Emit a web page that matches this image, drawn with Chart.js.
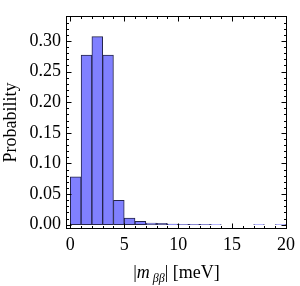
<!DOCTYPE html>
<html>
<head>
<meta charset="utf-8">
<script src="https://cdn.jsdelivr.net/npm/chart.js@4"></script>
<style>
  body { margin: 0; background: #fff; }
  #wrap { width: 300px; height: 286px; }
</style>
</head>
<body>
<div id="wrap"><canvas id="hist"></canvas></div>
<script>
// histogram of |m_bb| in meV, bins of width 1
const binStarts = [0, 1, 2, 3, 4, 5, 6, 7, 8, 9, 10, 11, 12, 13, 14, 15, 16, 17, 18, 19]
const binWidth = 1
const probabilities = [0.078, 0.277, 0.307, 0.277, 0.040, 0.011, 0.0055, 0.0028, 0.0022, 0.0009,
  0.0008, 0.0007, 0.0006, 0.0003, 0, 0, 0, 0.0002, 0, 0.0002]
const xTicks = [0, 5, 10, 15, 20]
const yTicks = [0, 0.05, 0.10, 0.15, 0.20, 0.25, 0.30]
const xMinorStep = 1
const yMinorStep = 0.01

const FONT = '"Liberation Serif", "DejaVu Serif", serif'

const framePlugin = {
  id: 'frame',
  afterDatasetsDraw(chart) {
    const { ctx, chartArea: a, scales: { x, y } } = chart
    const L = Math.round(a.left) + 0.5
    const R = Math.round(a.right) - 0.5
    const T = Math.round(a.top) + 0.5
    const B = Math.round(a.bottom) - 0.5
    ctx.save()
    ctx.strokeStyle = '#000'
    ctx.lineWidth = 1
    ctx.strokeRect(L, T, R - L, B - T)
    ctx.beginPath()
    for (let k = Math.ceil(x.min / xMinorStep); k * xMinorStep <= x.max; k++) {
      const v = k * xMinorStep
      const px = Math.round(x.getPixelForValue(v)) + 0.5
      const len = xTicks.includes(v) ? 5 : 2.5
      ctx.moveTo(px, B); ctx.lineTo(px, B - len)
      ctx.moveTo(px, T); ctx.lineTo(px, T + len)
    }
    for (let k = Math.ceil(y.min / yMinorStep); k * yMinorStep <= y.max; k++) {
      const py = Math.round(y.getPixelForValue(k * yMinorStep)) + 0.5
      const len = k % 5 === 0 ? 5 : 2.5
      ctx.moveTo(L, py); ctx.lineTo(L + len, py)
      ctx.moveTo(R, py); ctx.lineTo(R - len, py)
    }
    ctx.stroke()
    ctx.restore()
  }
}

// x axis title with the beta-beta subscript
const xTitlePlugin = {
  id: 'xTitle',
  afterDraw(chart) {
    const { ctx, chartArea: a } = chart
    const parts = [
      { t: '|', f: '18px ' + FONT, dy: 0 },
      { t: 'm', f: 'italic 18px ' + FONT, dy: 0 },
      { t: ' ββ', f: 'italic 12px ' + FONT, dy: 4 },
      { t: '| [meV]', f: '18px ' + FONT, dy: 0 }
    ]
    ctx.save()
    ctx.fillStyle = '#000'
    ctx.textBaseline = 'alphabetic'
    let total = 0
    parts.forEach(p => { ctx.font = p.f; p.w = ctx.measureText(p.t).width; total += p.w })
    let cx = (a.left + a.right) / 2 - total / 2
    const base = 278
    parts.forEach(p => {
      ctx.font = p.f
      ctx.fillText(p.t, cx, base + p.dy)
      cx += p.w
    })
    ctx.restore()
  }
}

new Chart(document.getElementById('hist'), {
  type: 'bar',
  data: {
    datasets: [{
      data: binStarts.map((s, i) => ({ x: s + binWidth / 2, y: probabilities[i] })),
      backgroundColor: '#8080ff',
      borderColor: '#24244a',
      borderWidth: 1,
      borderSkipped: false,
      barPercentage: 1,
      categoryPercentage: 1
    }]
  },
  options: {
    responsive: true,
    maintainAspectRatio: false,
    animation: false,
    layout: { padding: { top: 1, right: 8, left: 0, bottom: 0 } },
    plugins: { legend: { display: false }, tooltip: { enabled: false } },
    scales: {
      x: {
        type: 'linear',
        offset: false,
        min: -0.4,
        max: 20.1,
        grid: { display: false, drawTicks: false, offset: false },
        border: { display: false },
        afterFit: scale => { scale.height = 57 },
        afterBuildTicks: scale => { scale.ticks = xTicks.map(v => ({ value: v })) },
        ticks: {
          color: '#000',
          padding: 5,
          maxRotation: 0,
          font: { family: FONT, size: 18 },
          callback: v => String(v)
        }
      },
      y: {
        min: -0.007,
        max: 0.341,
        grid: { display: false, drawTicks: false },
        border: { display: false },
        afterFit: scale => { scale.width = 66 },
        afterBuildTicks: scale => { scale.ticks = yTicks.map(v => ({ value: v })) },
        title: {
          display: true,
          text: 'Probability',
          color: '#000',
          padding: { top: 0, bottom: 2 },
          font: { family: FONT, size: 18 }
        },
        ticks: {
          color: '#000',
          padding: 5,
          font: { family: FONT, size: 18 },
          callback: v => v.toFixed(2)
        }
      }
    }
  },
  plugins: [framePlugin, xTitlePlugin]
})
</script>
</body>
</html>
